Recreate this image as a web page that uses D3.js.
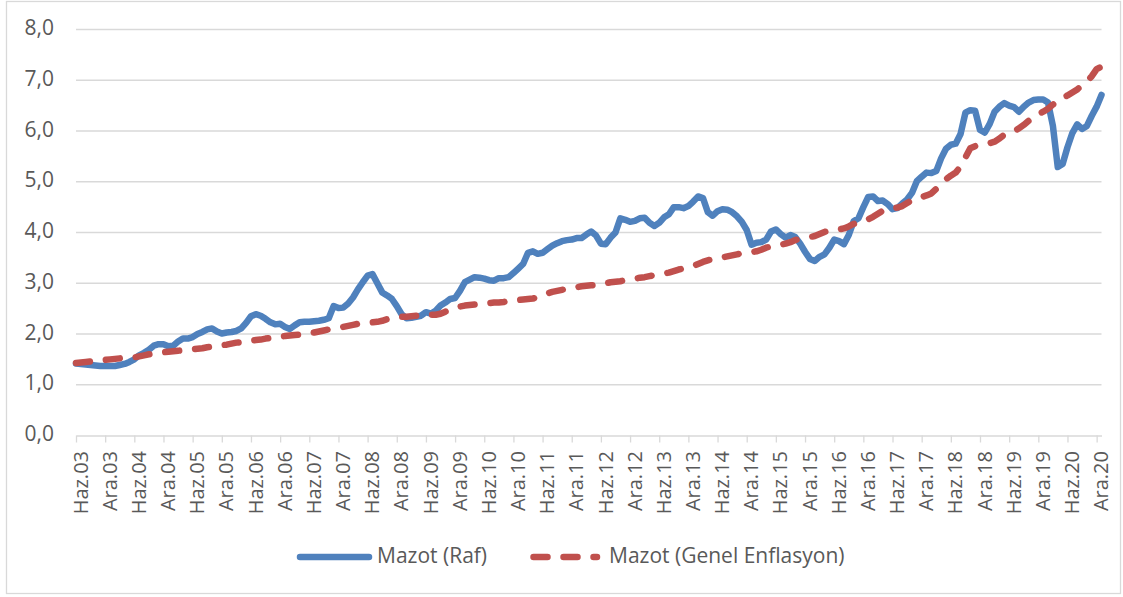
<!DOCTYPE html>
<html>
<head>
<meta charset="utf-8">
<script src="https://cdn.jsdelivr.net/npm/d3@7"></script>
<style>
  body { margin: 0; background: #fff; }
  svg { display: block; font-family: "Open Sans", sans-serif; }
</style>
</head>
<body>
<div id="chart"></div>
<script>
// Aylık seriler: Haziran 2003 - Ocak 2021 (212 ay)
const mazotRaf = [
  1.42, 1.41, 1.40, 1.39, 1.38, 1.37, 1.37, 1.37, 1.37, 1.39, 1.41, 1.45,
  1.50, 1.58, 1.63, 1.69, 1.77, 1.80, 1.80, 1.76, 1.77, 1.85, 1.91, 1.91,
  1.94, 2.00, 2.04, 2.09, 2.11, 2.05, 2.01, 2.03, 2.04, 2.06, 2.11, 2.22,
  2.35, 2.39, 2.36, 2.30, 2.23, 2.19, 2.20, 2.14, 2.10, 2.17, 2.23, 2.24,
  2.24, 2.25, 2.26, 2.28, 2.31, 2.55, 2.51, 2.52, 2.60, 2.72, 2.88, 3.02,
  3.15, 3.18, 3.00, 2.82, 2.76, 2.69, 2.55, 2.39, 2.31, 2.32, 2.34, 2.36,
  2.43, 2.40, 2.46, 2.56, 2.62, 2.69, 2.71, 2.85, 3.02, 3.07, 3.12, 3.11,
  3.09, 3.06, 3.05, 3.10, 3.10, 3.12, 3.20, 3.29, 3.38, 3.60, 3.63, 3.58,
  3.60, 3.67, 3.74, 3.79, 3.83, 3.85, 3.86, 3.89, 3.89, 3.96, 4.02, 3.94,
  3.78, 3.77, 3.90, 4.00, 4.28, 4.25, 4.21, 4.23, 4.28, 4.29, 4.19, 4.13,
  4.19, 4.30, 4.36, 4.50, 4.50, 4.48, 4.52, 4.61, 4.71, 4.68, 4.40, 4.33,
  4.42, 4.46, 4.45, 4.40, 4.32, 4.21, 4.05, 3.76, 3.80, 3.81, 3.86, 4.02,
  4.06, 3.97, 3.90, 3.95, 3.91, 3.78, 3.62, 3.48, 3.44, 3.52, 3.57, 3.70,
  3.86, 3.83, 3.77, 3.95, 4.22, 4.28, 4.50, 4.70, 4.71, 4.62, 4.63, 4.56,
  4.46, 4.48, 4.57, 4.65, 4.78, 5.01, 5.10, 5.18, 5.17, 5.21, 5.46, 5.65,
  5.73, 5.75, 5.94, 6.36, 6.41, 6.40, 6.02, 5.97, 6.14, 6.38, 6.48, 6.55,
  6.50, 6.47, 6.38, 6.48, 6.56, 6.61, 6.62, 6.62, 6.56, 6.10, 5.29, 5.35,
  5.68, 5.96, 6.13, 6.04, 6.10, 6.30, 6.48, 6.71
];

const mazotEnflasyon = [
  1.43, 1.44, 1.45, 1.46, 1.47, 1.48, 1.49, 1.50, 1.51, 1.52, 1.53, 1.53,
  1.54, 1.56, 1.58, 1.60, 1.61, 1.63, 1.64, 1.65, 1.66, 1.67, 1.68, 1.69,
  1.70, 1.71, 1.72, 1.74, 1.75, 1.77, 1.78, 1.79, 1.81, 1.83, 1.84, 1.86,
  1.87, 1.88, 1.89, 1.91, 1.92, 1.94, 1.95, 1.96, 1.97, 1.98, 1.99, 2.00,
  2.01, 2.03, 2.05, 2.07, 2.09, 2.10, 2.12, 2.14, 2.16, 2.18, 2.20, 2.21,
  2.22, 2.23, 2.24, 2.26, 2.29, 2.32, 2.33, 2.34, 2.34, 2.35, 2.36, 2.36,
  2.37, 2.38, 2.38, 2.40, 2.44, 2.48, 2.51, 2.54, 2.56, 2.57, 2.58, 2.59,
  2.60, 2.61, 2.62, 2.62, 2.63, 2.65, 2.66, 2.67, 2.68, 2.69, 2.70, 2.72,
  2.76, 2.80, 2.83, 2.85, 2.87, 2.89, 2.90, 2.92, 2.94, 2.95, 2.96, 2.97,
  2.98, 3.00, 3.02, 3.03, 3.04, 3.06, 3.07, 3.09, 3.11, 3.12, 3.14, 3.16,
  3.17, 3.19, 3.21, 3.24, 3.27, 3.29, 3.31, 3.34, 3.38, 3.42, 3.45, 3.48,
  3.49, 3.51, 3.53, 3.55, 3.57, 3.59, 3.60, 3.61, 3.63, 3.66, 3.70, 3.73,
  3.74, 3.76, 3.78, 3.81, 3.85, 3.88, 3.89, 3.91, 3.93, 3.97, 4.01, 4.04,
  4.05, 4.06, 4.08, 4.12, 4.17, 4.20, 4.22, 4.26, 4.31, 4.37, 4.43, 4.47,
  4.48, 4.49, 4.52, 4.58, 4.64, 4.68, 4.70, 4.73, 4.77, 4.86, 4.96, 5.05,
  5.12, 5.18, 5.30, 5.48, 5.66, 5.70, 5.72, 5.74, 5.76, 5.79, 5.85, 5.93,
  5.96, 6.00, 6.05, 6.12, 6.20, 6.28, 6.33, 6.38, 6.44, 6.52, 6.60, 6.65,
  6.70, 6.76, 6.82, 6.90, 6.98, 7.08, 7.22, 7.27
];

// Eksen etiketleri (her 6 ayda bir)
const xTickLabels = [
  "Haz.03", "Ara.03", "Haz.04", "Ara.04", "Haz.05", "Ara.05", "Haz.06", "Ara.06",
  "Haz.07", "Ara.07", "Haz.08", "Ara.08", "Haz.09", "Ara.09", "Haz.10", "Ara.10",
  "Haz.11", "Ara.11", "Haz.12", "Ara.12", "Haz.13", "Ara.13", "Haz.14", "Ara.14",
  "Haz.15", "Ara.15", "Haz.16", "Ara.16", "Haz.17", "Ara.17", "Haz.18", "Ara.18",
  "Haz.19", "Ara.19", "Haz.20", "Ara.20"
];
const yTickValues = [0, 1, 2, 3, 4, 5, 6, 7, 8];
const yTickLabels = ["0,0", "1,0", "2,0", "3,0", "4,0", "5,0", "6,0", "7,0", "8,0"];

const seriesNames = ["Mazot (Raf)", "Mazot (Genel Enflasyon)"];

(() => {
const width = 1123;
const height = 597;
const plotLeft = 76, plotRight = 1101.5, plotTop = 29.5, plotBottom = 435.5;
const textColor = "#595959";
const gridColor = "#d9d9d9";
const blue = "#4f81bd";
const red = "#c0504d";

const svg = d3.select("#chart")
  .append("svg")
  .attr("width", width)
  .attr("height", height);

svg.append("rect")
  .attr("x", 6.5).attr("y", 1.5)
  .attr("width", 1114).attr("height", 592)
  .attr("fill", "#fff")
  .attr("stroke", gridColor)
  .attr("stroke-width", 1.3);

const x = d3.scaleLinear()
  .domain([0, mazotRaf.length - 1])
  .range([plotLeft, plotRight]);

const y = d3.scaleLinear()
  .domain([0, 8])
  .range([plotBottom, plotTop]);

// yatay kılavuz çizgileri
svg.append("g")
  .selectAll("line")
  .data(yTickValues.filter(d => d > 0))
  .enter()
  .append("line")
  .attr("x1", plotLeft).attr("x2", plotRight)
  .attr("y1", d => y(d)).attr("y2", d => y(d))
  .attr("stroke", gridColor)
  .attr("stroke-width", 1.3);

// Y etiketleri
svg.append("g")
  .selectAll("text")
  .data(yTickValues)
  .enter()
  .append("text")
  .attr("x", 54)
  .attr("y", d => y(d) + 5.5)
  .attr("text-anchor", "end")
  .attr("fill", textColor)
  .style("font-size", "21px")
  .text((d, i) => yTickLabels[i]);

// X ekseni
const tickIdx = xTickLabels.map((d, i) => i * 6);
const xAxis = d3.axisBottom(x)
  .tickValues(tickIdx)
  .tickSize(7)
  .tickSizeOuter(0)
  .tickFormat("");

const gx = svg.append("g")
  .attr("transform", `translate(0,${plotBottom})`)
  .call(xAxis);
gx.select(".domain").attr("stroke", gridColor).attr("stroke-width", 1.3);
gx.selectAll(".tick line").attr("stroke", gridColor).attr("stroke-width", 1.3);

svg.append("g")
  .selectAll("text")
  .data(xTickLabels)
  .enter()
  .append("text")
  .attr("transform", (d, i) => `translate(${x(tickIdx[i])},451) rotate(-90)`)
  .attr("dy", "0.58em")
  .attr("text-anchor", "end")
  .attr("fill", textColor)
  .style("font-size", "20px")
  .text(d => d);

// çizgiler
const line = d3.line()
  .x((d, i) => x(i))
  .y(d => y(d));

svg.append("path")
  .datum(mazotRaf)
  .attr("d", line)
  .attr("fill", "none")
  .attr("stroke", blue)
  .attr("stroke-width", 6.5)
  .attr("stroke-linejoin", "round")
  .attr("stroke-linecap", "round");

svg.append("path")
  .datum(mazotEnflasyon)
  .attr("d", line)
  .attr("fill", "none")
  .attr("stroke", red)
  .attr("stroke-width", 6.5)
  .attr("stroke-dasharray", "14 16")
  .attr("stroke-linejoin", "round")
  .attr("stroke-linecap", "round");

// Lejant
const legend = svg.append("g");
legend.append("line")
  .attr("x1", 300).attr("x2", 369)
  .attr("y1", 557).attr("y2", 557)
  .attr("stroke", blue)
  .attr("stroke-width", 6.5)
  .attr("stroke-linecap", "round");
legend.append("text")
  .attr("x", 377).attr("y", 562.5)
  .attr("fill", textColor)
  .style("font-size", "21px")
  .text(seriesNames[0]);

legend.append("line")
  .attr("x1", 533.5).attr("x2", 597)
  .attr("y1", 557).attr("y2", 557)
  .attr("stroke", red)
  .attr("stroke-width", 6.5)
  .attr("stroke-dasharray", "14 16")
  .attr("stroke-linecap", "round");
legend.append("text")
  .attr("x", 609).attr("y", 562.5)
  .attr("fill", textColor)
  .style("font-size", "21px")
  .text(seriesNames[1]);
})();
</script>
</body>
</html>
